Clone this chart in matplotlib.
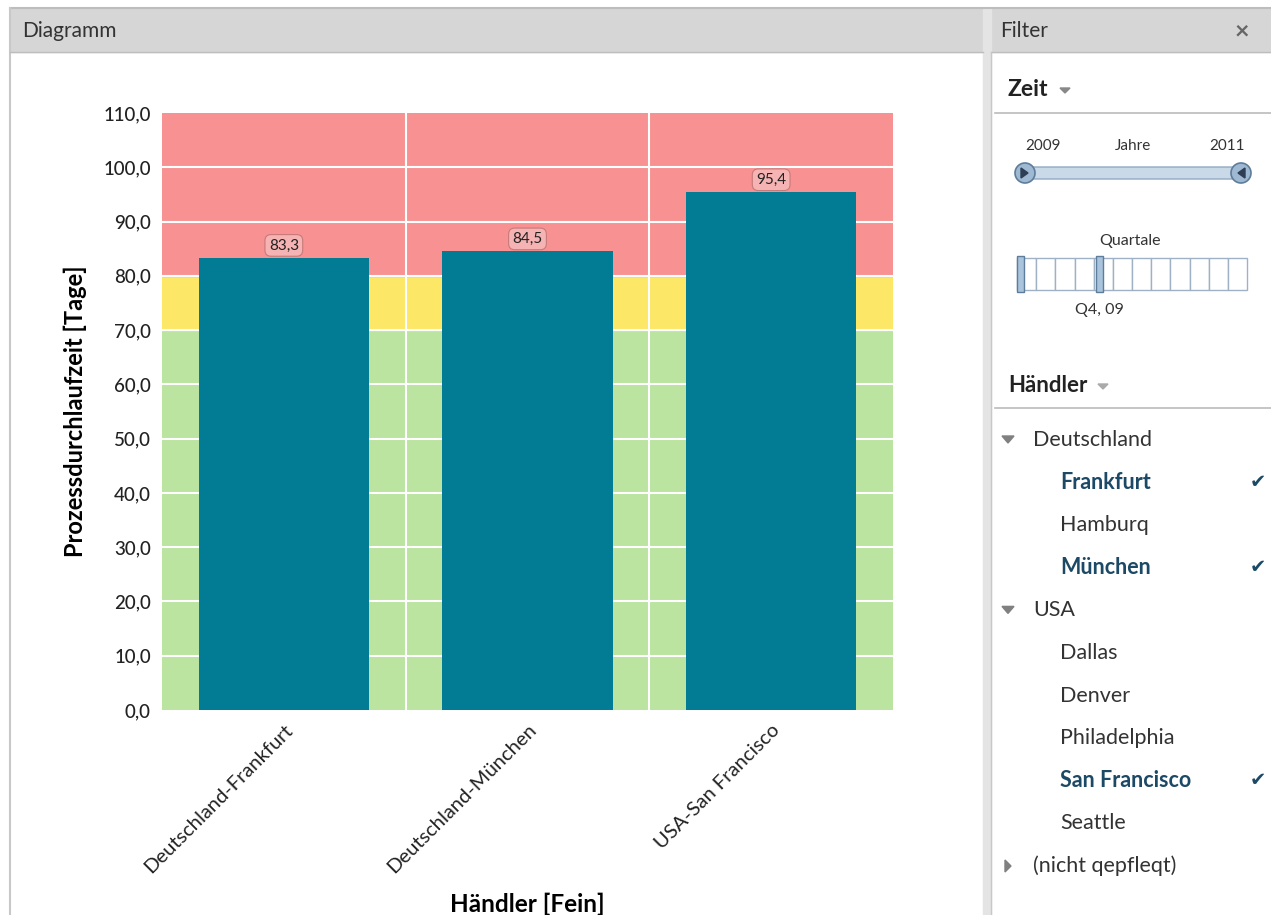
import matplotlib
matplotlib.use("Agg")
import matplotlib.pyplot as plt
from matplotlib.patches import Rectangle, FancyBboxPatch, Circle, Polygon

plt.rcParams['font.family'] = ['Lato', 'DejaVu Sans']

# data
haendler = ["Deutschland-Frankfurt", "Deutschland-München", "USA-San Francisco"]
durchlaufzeit = [83.3, 84.5, 95.4]
band_grenzen = [0, 70, 80, 110]
band_farben = ["#bae4a0", "#fde767", "#f89191"]
y_ticks = [0, 10, 20, 30, 40, 50, 60, 70, 80, 90, 100, 110]

filter_baum = [
    ("Deutschland", 0, False, "down"),
    ("Frankfurt", 1, True, None),
    ("Hamburq", 1, False, None),
    ("München", 1, True, None),
    ("USA", 0, False, "down"),
    ("Dallas", 1, False, None),
    ("Denver", 1, False, None),
    ("Philadelphia", 1, False, None),
    ("San Francisco", 1, True, None),
    ("Seattle", 1, False, None),
    ("(nicht qepfleqt)", 0, False, "right"),
]

W, H = 1271, 915
fig = plt.figure(figsize=(W / 100, H / 100), dpi=100)
fig.patch.set_facecolor("white")

# UI frame (pixel coordinates)
ui = fig.add_axes([0, 0, 1, 1], zorder=0)
ui.set_xlim(0, W)
ui.set_ylim(H, 0)
ui.axis("off")

grau = "#d6d6d6"
ui.add_patch(Rectangle((10, 9), 973, 43, color=grau))
ui.add_patch(Rectangle((991, 9), 280, 43, color=grau))
ui.plot([10, W], [8, 8], color="#bdbdbd", lw=1.5)
ui.plot([10, 10], [8, H], color="#c8c8c8", lw=1.5)
ui.plot([10, 983], [52, 52], color="#bdbdbd", lw=1)
ui.plot([991, W], [52, 52], color="#bdbdbd", lw=1)
ui.add_patch(Rectangle((983, 9), 8, H, color="#e4e4e4"))
ui.plot([991, 991], [52, H], color="#c8c8c8", lw=1)
ui.text(22, 31, "Diagramm", fontsize=15, va="center", color="#333333")
ui.text(1000, 31, "Filter", fontsize=15, va="center", color="#333333")
ui.text(1242, 31, "×", fontsize=18, va="center", ha="center", color="#666666", fontweight="bold")

# Zeit
ui.text(1008, 90, "Zeit", fontsize=16.5, fontweight="bold", va="center", color="#222222")
ui.add_patch(Polygon([[1060, 88], [1070, 88], [1065, 93]], color="#888888"))
ui.plot([995, W], [113, 113], color="#bbbbbb", lw=1.2)
ui.text(1043, 146, "2009", fontsize=11, ha="center", va="center", color="#333333")
ui.text(1133, 146, "Jahre", fontsize=11, ha="center", va="center", color="#333333")
ui.text(1227, 146, "2011", fontsize=11, ha="center", va="center", color="#333333")
ui.add_patch(FancyBboxPatch((1025, 167), 217, 12, boxstyle="round,pad=0,rounding_size=5",
                            facecolor="#c9d9e8", edgecolor="#8fa9c2", lw=1))
for cx, pts in [(1025, [[1021, 168], [1021, 178], [1028, 173]]),
                (1241, [[1245, 168], [1245, 178], [1238, 173]])]:
    ui.add_patch(Circle((cx, 173), 10, facecolor="#9fb9d2", edgecolor="#5d7d9b", lw=1.2))
    ui.add_patch(Polygon(pts, color="#2e3f55"))
ui.text(1130, 241, "Quartale", fontsize=11.5, ha="center", va="center", color="#333333")
x0, bw = 1017, 230 / 12
for i in range(12):
    ui.add_patch(Rectangle((x0 + i * bw, 258), bw, 32, facecolor="white", edgecolor="#9fb2c5", lw=1))
for hx in [1017, 1096]:
    ui.add_patch(Rectangle((hx, 256), 7, 36, facecolor="#a9c4dc", edgecolor="#5d7d9b", lw=1))
ui.text(1099, 310, "Q4, 09", fontsize=11.5, ha="center", va="center", color="#333333")

# Händler
ui.text(1008, 386, "Händler", fontsize=16, fontweight="bold", va="center", color="#222222")
ui.add_patch(Polygon([[1098, 384], [1108, 384], [1103, 389]], color="#aaaaaa"))
ui.plot([995, W], [408, 408], color="#bbbbbb", lw=1.2)
for i, (name, level, selected, arrow) in enumerate(filter_baum):
    y = 440 + i * 42.6
    x = 1033 if level == 0 else 1060
    farbe = "#1c4a66" if selected else "#333333"
    ui.text(x, y, name, fontsize=15.5, va="center", color=farbe,
            fontweight="bold" if selected else "normal")
    if selected:
        ui.text(1258, y, "✔", fontsize=14, va="center", ha="center", color="#1c4a66",
                family=["DejaVu Sans"])
    if arrow == "down":
        ui.add_patch(Polygon([[1002, y - 4], [1014, y - 4], [1008, y + 3]], color="#808080"))
    elif arrow == "right":
        ui.add_patch(Polygon([[1005, y - 6], [1005, y + 6], [1011, y]], color="#808080"))

# chart
ax = fig.add_axes([162 / W, 1 - 710 / H, 731 / W, 597 / H], zorder=1)
ax.set_facecolor("none")
ax.set_xlim(-0.5, len(haendler) - 0.5)
ax.set_ylim(band_grenzen[0], band_grenzen[-1])
for lo, hi, c in zip(band_grenzen[:-1], band_grenzen[1:], band_farben):
    ax.axhspan(lo, hi, color=c, zorder=0)
for yt in y_ticks[1:-1]:
    ax.axhline(yt, color="white", lw=1.5, zorder=1)
for xb in [0.5, 1.5]:
    ax.axvline(xb, color="white", lw=1.5, zorder=1)

x = range(len(haendler))
ax.bar(x, durchlaufzeit, width=0.7, color="#017c94", zorder=2)
for xi, v in zip(x, durchlaufzeit):
    ax.annotate(f"{v:.1f}".replace(".", ","), (xi, v), xytext=(0, 9), textcoords="offset points",
                ha="center", va="center", fontsize=11, color="#222222", zorder=3,
                bbox=dict(boxstyle="round,pad=0.25,rounding_size=0.4", facecolor="#f6b3b3",
                          edgecolor="#c77a7a", lw=0.8))

ax.set_yticks(y_ticks)
ax.set_yticklabels([f"{t:.1f}".replace(".", ",") for t in y_ticks], fontsize=13.5,
                   color="#222222", fontweight="medium")
ax.set_xticks(list(x))
ax.set_xticklabels(haendler, rotation=45, ha="right", rotation_mode="anchor", fontsize=14.5,
                   color="#222222")
ax.tick_params(length=0, pad=8)
for s in ax.spines.values():
    s.set_visible(False)
ax.set_ylabel("Prozessdurchlaufzeit [Tage]", fontsize=17, fontweight="bold", labelpad=12)
ax.set_xlabel("Händler [Fein]", fontsize=17.5, fontweight="bold")
ax.xaxis.set_label_coords(0.5, 1 - (893 - 113) / 597)

fig.savefig("out.png", dpi=100)
